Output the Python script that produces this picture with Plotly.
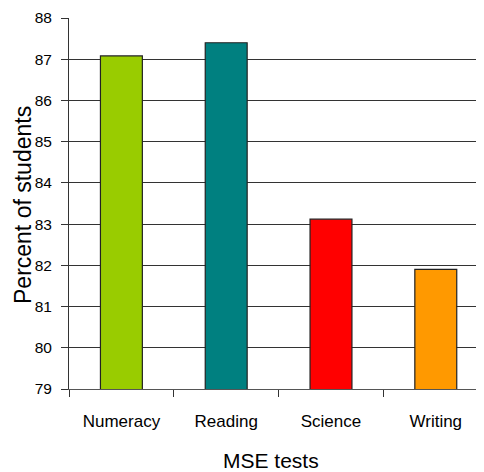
import plotly.graph_objects as go

categories = ["Numeracy", "Reading", "Science", "Writing"]
values = [87.08, 87.40, 83.12, 81.90]
colors = ["#99CC00", "#008080", "#FF0000", "#FF9900"]
y_ticks = list(range(79, 89))

fig = go.Figure(go.Bar(
    x=categories, y=values,
    marker=dict(color=colors, line=dict(color="#222222", width=1.2)),
    width=0.4,
))

font = "Arial, 'Liberation Sans', sans-serif"
fig.update_layout(
    width=476, height=464,
    margin=dict(l=61, r=0, t=10, b=83),
    plot_bgcolor="white", paper_bgcolor="white",
    showlegend=False,
    font=dict(family=font, color="black"),
    xaxis=dict(
        range=[-0.5, 3.46], tickson="boundaries", ticks="outside", ticklen=7,
        tickcolor="#333333", showline=True, linecolor="#555555", linewidth=1,
        tickfont=dict(size=17), ticklabelstandoff=17,
        showgrid=False, automargin=False,
    ),
    yaxis=dict(
        range=[79, 88], tickvals=y_ticks, ticks="outside", ticklen=7,
        tickcolor="#333333", showline=True, linecolor="#333333", linewidth=1,
        showgrid=True, gridcolor="#333333", gridwidth=1,
        tickfont=dict(size=15.5), ticklabelstandoff=6,
        zeroline=False, automargin=False,
    ),
    annotations=[
        dict(text="Percent of students", xref="paper", yref="paper",
             x=-0.1108, y=0.496, xanchor="center", yanchor="middle",
             textangle=-90, showarrow=False, font=dict(size=23)),
        dict(text="MSE tests", xref="paper", yref="paper",
             x=0.486, y=-0.194, xanchor="center", yanchor="middle",
             showarrow=False, font=dict(size=21)),
    ],
)

fig.write_html("out.html")
